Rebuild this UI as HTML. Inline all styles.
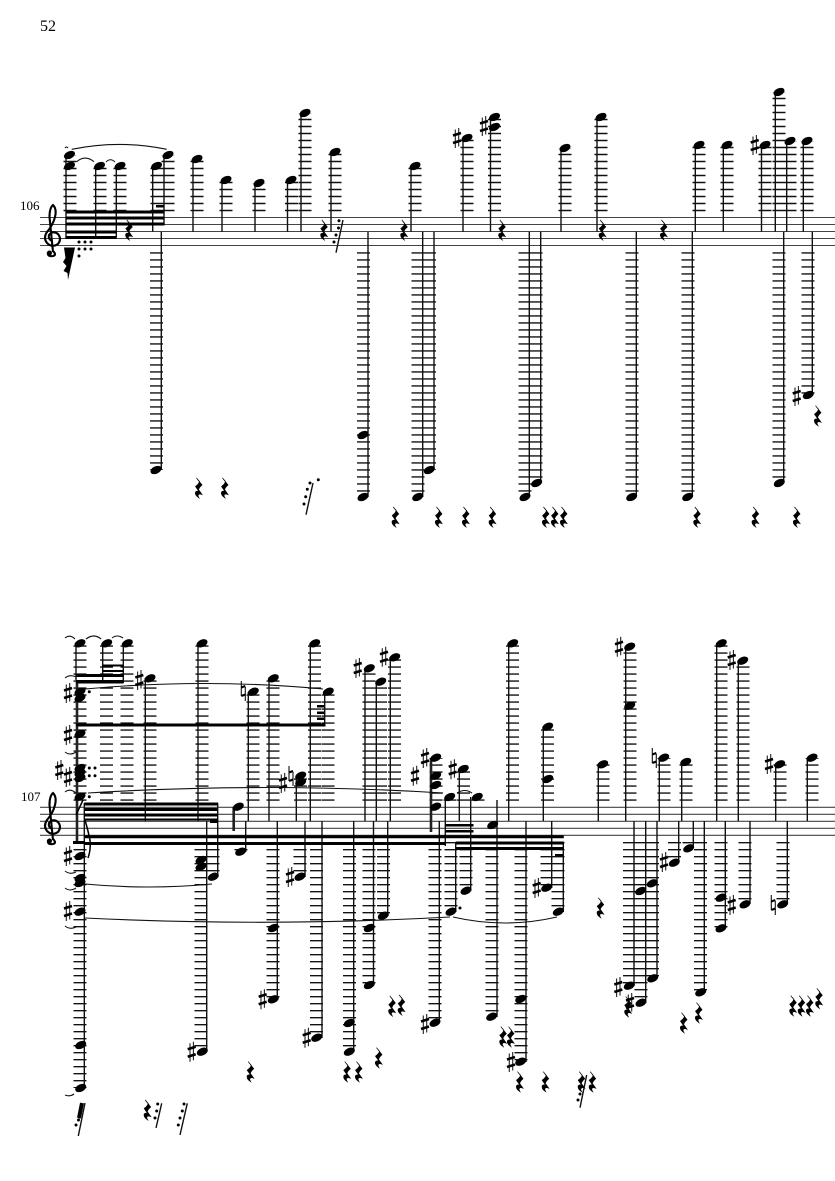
<!DOCTYPE html>
<html><head><meta charset="utf-8"><style>
html,body{margin:0;padding:0;background:#fff}
svg{display:block}
text{font-family:"Liberation Serif",serif;fill:#000}
.st{fill:none;stroke:#444;stroke-width:1.1}
.lu,.ld{fill:none;stroke:#111;stroke-width:13;stroke-dasharray:1.4 5.6}
.sm{fill:none;stroke:#111;stroke-width:1.4}
.tk{fill:none;stroke:#222;stroke-width:2.6}
.sl{fill:none;stroke:#111;stroke-width:1.1}
.dt{fill:none;stroke:#000;stroke-width:3;stroke-linecap:round}
</style></head><body>
<svg xmlns="http://www.w3.org/2000/svg" width="835" height="1181" viewBox="0 0 835 1181">
<defs>
<ellipse id="h" rx="5.8" ry="3.7" transform="rotate(-25)" fill="#000"/>
<path id="r" fill="#000" stroke="#000" stroke-width=".7" d="M-2.500-10 3-3Q.5-1-.5 1.500L3 6.500Q-1 5-1 8L0 10Q-4.500 7-3.500 4Q-2 2.500 0 3.500L-3.500-1.500Q0-4 .5-6.500Z"/>
<g id="s"><path d="M-1.700-8.500V10M1.700-10V8.500" stroke="#222" stroke-width="1.1" fill="none"/><path d="M-4-2.500 4-5M-4 5 4 2.500" stroke="#000" stroke-width="2.600" fill="none"/></g>
<g id="n"><path d="M-2-10V5M2-4V10" stroke="#111" stroke-width="1.1" fill="none"/><path d="M-2-3.500 2-5M-2 5 2 3.500" stroke="#000" stroke-width="2.200" fill="none"/></g>
<g id="c" fill="none" stroke="#000"><path stroke-width="2.100" d="M53 46Q57 50 53 51Q47 52 48 47M53 47 49.500 12Q49.500 3 53 0Q57 4 55 12Q53 20 47 27Q43 33 47 38Q52 43 58 39Q62 34 58 29Q53 25 49 30Q48 34 52 36"/><circle cx="49.500" cy="48" r="2.500" fill="#000" stroke="none"/></g>
</defs>

<text x="40" y="31" font-size="16">52</text>
<text x="20" y="210" font-size="13">106</text>
<text x="21" y="801" font-size="13">107</text>

<path class="st" d="M40 217.500H835M40 224.500H835M40 231.500H835M40 238.500H835M40 245.500H835"/>
<path class="st" d="M40 807.300H835M40 814.300H835M40 821.300H835M40 828.300H835M40 835.300H835"/>
<use href="#c" y="205"/>
<use href="#c" y="793"/>

<!-- STAFF 1 -->
<path class="lu" d="M70 211.200V155M100 211.200V166M120 211.200V166M157 211.200V166M168 211.200V155M197 211.200V159M226 211.200V180M259 211.200V183M291.500 211.200V180M305 211.200V113M335 211.200V152M415 211.200V166M467 211.200V138M494.500 211.200V117M565 211.200V148M601 211.200V117M699 211.200V145M727 211.200V145M765 211.200V145M779 211.200V92M790 211.200V141M807 211.200V141"/>
<path class="ld" d="M156.500 252.200V470M363.500 252.200V497M418 252.200V497M429.500 252.200V470M525 252.200V497M536 252.200V483M632 252.200V497M688 252.200V497M779 252.200V483M808 252.200V395"/>
<path class="sm" d="M66 155V238M95.700 166V237M116.300 166V237M152.700 166V231.700M164 155V225M193 159V231.700M222 180V231.700M255 183V231.700M287.500 180V231.700M301 113V231.700M331 152V231.700M411 166V231.700M463 138V231.700M490.500 117V231.700M561 148V231.700M597 117V231.700M695.300 145V231.700M723.300 145V231.700M761.500 145V231.700M775.300 92V231.700M786.700 141V231.700M803.300 141V231.700"/>
<path class="sm" d="M161.300 231.700V470M368 231.700V497M422.700 231.700V497M434 231.700V470M529.300 231.700V497M540.700 231.700V483M636.300 231.700V497M692.300 231.700V497M783.700 231.700V483M812.300 231.700V395"/>
<path fill="#000" d="M65.500 210.500H164.500V213.500H65.500ZM65.500 216.500H164.500V219.500H65.500ZM65.500 222.500H164.500V225.500H65.500ZM65.500 230.500H116.800V233.500H65.500ZM65.500 236H116.800V239H65.500ZM156 205H164V207.500H156Z"/>
<path fill="#000" d="M64 247.500H75L68 280 67.500 273 63.500 271 66.500 266 63 262 65.500 258Z"/>
<path class="dt" d="M79 242h0M85 242h0M91 242h0M79 249h0M85 249h0M91 249h0M79 256h0M339 220.700h0M338.500 228h0M336 235h0M334 242h0M310 483h0M307.300 489.300h0M305.700 496.700h0M304 504h0M318.300 479.700h0"/>
<path class="sm" d="M343 220 336 252.700M313 483 306 514.700"/>
<path class="sl" d="M71.700 149.300Q119 139.500 166.700 149.300M76.700 161.700Q85 154.500 94 161.700M106 162Q110.500 157.500 115 162M65 148Q66.500 146 68 148"/>
<use href="#h" x="69.500" y="155"/><use href="#h" x="69.500" y="166"/><use href="#h" x="99.500" y="166"/><use href="#h" x="120" y="166"/><use href="#h" x="156.500" y="166"/><use href="#h" x="168" y="155"/><use href="#h" x="197" y="159"/><use href="#h" x="226" y="180"/><use href="#h" x="259" y="183"/><use href="#h" x="291" y="180"/><use href="#h" x="305" y="113"/><use href="#h" x="335" y="152"/><use href="#h" x="415" y="166"/><use href="#h" x="467" y="138"/><use href="#h" x="494.500" y="117"/><use href="#h" x="494.500" y="127"/><use href="#h" x="565" y="148"/><use href="#h" x="601" y="117"/><use href="#h" x="699" y="145"/><use href="#h" x="727" y="145"/><use href="#h" x="765" y="145"/><use href="#h" x="779" y="92"/><use href="#h" x="790" y="141"/><use href="#h" x="807" y="141"/>
<use href="#h" x="156" y="470"/><use href="#h" x="363" y="435"/><use href="#h" x="363" y="497"/><use href="#h" x="417.700" y="497"/><use href="#h" x="429.300" y="470"/><use href="#h" x="525" y="497"/><use href="#h" x="536.700" y="483"/><use href="#h" x="631.700" y="497"/><use href="#h" x="687.700" y="497"/><use href="#h" x="779.300" y="483"/><use href="#h" x="808.300" y="395"/>
<use href="#s" x="457" y="138"/><use href="#s" x="484" y="126"/><use href="#s" x="754.700" y="145"/><use href="#s" x="796.700" y="396"/>
<use href="#r" x="129.300" y="230"/><use href="#r" x="324.300" y="230"/><use href="#r" x="404.300" y="230"/><use href="#r" x="502.300" y="230"/><use href="#r" x="602.700" y="230"/><use href="#r" x="664" y="230"/>
<use href="#r" x="199" y="488"/><use href="#r" x="225" y="488"/><use href="#r" x="395.700" y="517"/><use href="#r" x="439" y="517"/><use href="#r" x="466" y="517"/><use href="#r" x="492.700" y="517"/><use href="#r" x="546" y="517"/><use href="#r" x="555" y="517"/><use href="#r" x="564" y="517"/><use href="#r" x="697.300" y="517"/><use href="#r" x="755.700" y="517"/><use href="#r" x="797" y="517"/><use href="#r" x="818" y="415.700"/>

<!-- STAFF 2 -->
<path class="lu" d="M80 800.800V643M80 800.800V684M106.500 800.800V643M127 800.800V643M150 800.800V678M202 800.800V643M253 800.800V692M273 800.800V678M300.500 800.800V776M314.500 800.800V643M328 800.800V692M369 800.800V668M380.500 800.800V682M394.500 800.800V657M436 800.800V758M450 800.800V797M463.500 800.800V769M478 800.800V797M512.500 800.800V643M547.500 800.800V727M603 800.800V764M630 800.800V647M664 800.800V758M686 800.800V762M721 800.800V643M743 800.800V661M780 800.800V764M812 800.800V758"/>
<path class="ld" d="M80 842V1088M201 842V1052M213 842V877M241 842V852M273 842V999M300 842V877M316.500 842V1038M349.500 842V1052M369 842V985M383.500 842V916M435 842V1023M451 842V912M466 842V891M492 842V1017M521 842V1062M547 842V888M558 842V912M629.500 842V986M641 842V1003M652.500 842V978M674.500 842V863M689 842V848M700.500 842V992M721 842V928M745 842V904M783 842V904"/>
<path class="sm" d="M102.700 643V683M123.300 643V683M145.300 678V821M198 643V821M248.300 692V821M269 678V821M296.300 776V821M310.300 643V821M324.700 692V725M365 668V821M376.300 682V821M390.300 657V821M445.300 797V846M459.300 769V821M508.700 643V821M543.300 727V821M598.300 764V821M625.700 647V821M659.300 758V821M681.700 762V821M716.700 643V821M738.300 661V821M775.700 764V821M807.300 758V821"/>
<path class="sm" d="M84.300 803V1088M206.700 821V1052M217.700 803V877M245.700 821V852M277.300 821V999M305 821V877M322 821V1038M353.700 821V1052M373.500 821V985M387.700 821V916M439.300 821V1023M455.700 843V912M470.700 797V891M497 800V1017M526 821V1062M551.700 821V888M563.300 843V912M634 821V986M645.700 821V1003M657 821V978M678.700 821V863M693.300 821V848M704.300 821V992M725.300 821V928M750 821V904M787.300 821V904"/>
<path class="tk" d="M77 680V843M233.700 807V831M431 758V832"/>
<path class="sm" d="M76 643V680"/>
<path fill="#000" d="M76 674H123.500V677H76ZM76 680H123.500V683.500H76ZM102.700 664.500H123.500V666.500H102.700ZM102.700 670H123.500V672H102.700ZM76 723.500H325.500V726.500H76ZM317 705H324.500V707.500H317ZM317 711.500H324.500V714H317ZM317 717.500H324.500V720H317Z"/>
<path fill="#000" d="M84.300 802.500H218V805.500H84.300ZM84.300 808H218V811H84.300ZM84.300 813.500H218V816.500H84.300ZM84.300 818.500H218V820.500H84.300ZM210 820.500H217.700V823H210ZM73 841H85V844H73ZM84.300 835.300H563.800V838.300H84.300ZM84.300 842H445.500V845H84.300ZM445.300 824H473.500V826.500H445.300ZM445.300 830H473.500V832.500H445.300ZM455.700 841.500H563.800V844.500H455.700ZM455.700 847H563.800V850H455.700ZM555 854H563.300V856.500H555Z"/>
<path fill="none" stroke="#000" stroke-width="1.500" d="M85 820Q88 830 90 840Q91 850 88 858M76 815 83 800"/>
<path class="sl" d="M85 689Q205 678 323 689M88 793Q265 782 443 793M85 884Q148 890 212 884M85 918Q270 927 450 917M453 917Q505 929 557 917M457 793Q465 788 472 793M65 638Q70 634 75 639M86 639Q94 633 101 639M112 638Q117 634 123 638M65 678Q70 674 76 677M65 752Q70 756 76 752M65 792Q70 788 76 793M65 871Q70 875 76 872M65 888Q70 892 76 888M65 926Q70 930 76 927M65 1095Q70 1097 74 1094"/>
<path class="dt" d="M89.300 691.700h0M89.300 768h0M95 768h0M89.300 775.700h0M95 775.700h0M89.300 796.700h0M460 908h0"/>
<use href="#h" x="80" y="643.300"/><use href="#h" x="106.700" y="643.300"/><use href="#h" x="127.300" y="643.300"/><use href="#h" x="150" y="678.300"/><use href="#h" x="202" y="643.300"/><use href="#h" x="253.300" y="691.700"/><use href="#h" x="273.300" y="678.300"/><use href="#h" x="300.700" y="775.700"/><use href="#h" x="300.700" y="782.300"/><use href="#h" x="314.700" y="643.300"/><use href="#h" x="328.300" y="691.700"/><use href="#h" x="369.300" y="668.300"/><use href="#h" x="380.700" y="681.700"/><use href="#h" x="394.700" y="657.300"/><use href="#h" x="435.700" y="757.700"/><use href="#h" x="435.700" y="775.700"/><use href="#h" x="435.700" y="785"/><use href="#h" x="435.700" y="806.700"/><use href="#h" x="449.700" y="797"/><use href="#h" x="463.300" y="769"/><use href="#h" x="477.300" y="797"/><use href="#h" x="492.700" y="825"/><use href="#h" x="512.700" y="643.300"/><use href="#h" x="547.700" y="726.700"/><use href="#h" x="547.700" y="779"/><use href="#h" x="602.700" y="764.300"/><use href="#h" x="629.700" y="646.700"/><use href="#h" x="629.700" y="705.700"/><use href="#h" x="663.700" y="757.700"/><use href="#h" x="685.700" y="762"/><use href="#h" x="721.300" y="643.300"/><use href="#h" x="742.700" y="660.700"/><use href="#h" x="779.700" y="764.300"/><use href="#h" x="812" y="757.700"/><use href="#h" x="238.300" y="806.700"/>
<use href="#h" x="80" y="691.700"/><use href="#h" x="80" y="698"/><use href="#h" x="80" y="734"/><use href="#h" x="80" y="768"/><use href="#h" x="80" y="773"/><use href="#h" x="80" y="778"/><use href="#h" x="80" y="796.700"/><use href="#h" x="80" y="856"/><use href="#h" x="80" y="878"/><use href="#h" x="80" y="883"/><use href="#h" x="80" y="911.700"/><use href="#h" x="80.700" y="1045"/><use href="#h" x="80.700" y="1088"/>
<use href="#h" x="201" y="860"/><use href="#h" x="201" y="866.700"/><use href="#h" x="202.300" y="1051.700"/><use href="#h" x="213.300" y="876.700"/><use href="#h" x="240.700" y="851.700"/><use href="#h" x="273.300" y="928"/><use href="#h" x="273.300" y="999.300"/><use href="#h" x="300" y="876.700"/><use href="#h" x="316.700" y="1037.700"/><use href="#h" x="349.300" y="1023"/><use href="#h" x="349.300" y="1051.700"/><use href="#h" x="369.300" y="928"/><use href="#h" x="369.300" y="985"/><use href="#h" x="383.300" y="915.700"/><use href="#h" x="435" y="1022.700"/><use href="#h" x="451" y="911.700"/><use href="#h" x="466" y="890.700"/><use href="#h" x="491.700" y="1016.700"/><use href="#h" x="520.700" y="999"/><use href="#h" x="520.700" y="1061.700"/><use href="#h" x="546.700" y="887.700"/><use href="#h" x="558.300" y="911.700"/><use href="#h" x="629.300" y="985.700"/><use href="#h" x="640.700" y="891"/><use href="#h" x="641" y="1002.700"/><use href="#h" x="652.300" y="883.300"/><use href="#h" x="652.700" y="978.300"/><use href="#h" x="674.300" y="862.700"/><use href="#h" x="688.700" y="848.300"/><use href="#h" x="700.700" y="992.300"/><use href="#h" x="721" y="897.700"/><use href="#h" x="721" y="928.300"/><use href="#h" x="745" y="904.300"/><use href="#h" x="782.700" y="904.300"/>
<use href="#s" x="139.300" y="680"/><use href="#s" x="68" y="693"/><use href="#s" x="68" y="735"/><use href="#s" x="59.300" y="770"/><use href="#s" x="68" y="777"/><use href="#s" x="68" y="856"/><use href="#s" x="68" y="911"/><use href="#s" x="283" y="783"/><use href="#s" x="357.700" y="668"/><use href="#s" x="384" y="656.700"/><use href="#s" x="425" y="758"/><use href="#s" x="415" y="775.700"/><use href="#s" x="452.700" y="769.300"/><use href="#s" x="290" y="877"/><use href="#s" x="536.700" y="888"/><use href="#s" x="619" y="646.700"/><use href="#s" x="731.700" y="660"/><use href="#s" x="769" y="764"/><use href="#s" x="664" y="862"/><use href="#s" x="731.700" y="905"/><use href="#s" x="191.700" y="1051.700"/><use href="#s" x="262.700" y="999.300"/><use href="#s" x="306.700" y="1037.700"/><use href="#s" x="425" y="1024"/><use href="#s" x="511" y="1062"/><use href="#s" x="618.300" y="987"/><use href="#s" x="630" y="1003"/>
<use href="#n" x="243.300" y="691"/><use href="#n" x="291" y="776"/><use href="#n" x="654.300" y="758"/><use href="#n" x="773.300" y="905"/>
<use href="#r" x="600.700" y="907.700"/><use href="#r" x="392.300" y="1006"/><use href="#r" x="401.700" y="1005"/><use href="#r" x="250.700" y="1071.700"/><use href="#r" x="347.300" y="1071.700"/><use href="#r" x="359" y="1071.700"/><use href="#r" x="379" y="1057.700"/><use href="#r" x="147.700" y="1110"/><use href="#r" x="503.300" y="1036.700"/><use href="#r" x="511" y="1036.700"/><use href="#r" x="520" y="1081.700"/><use href="#r" x="545.700" y="1081.700"/><use href="#r" x="581.700" y="1081.700"/><use href="#r" x="592.700" y="1081.700"/><use href="#r" x="684" y="1022.700"/><use href="#r" x="699" y="1012.700"/><use href="#r" x="793.300" y="1005.700"/><use href="#r" x="801.700" y="1005.700"/><use href="#r" x="810" y="1005.700"/><use href="#r" x="819.300" y="998.300"/><use href="#r" x="628.300" y="1006.700"/>
<path class="sm" d="M85 1103 78.300 1136M161.700 1103.300 156 1128M187.300 1103.300 180 1135M586.700 1075 580 1107.700"/>
<path class="dt" d="M81.500 1105h0M81 1108h0M80.500 1111h0M80 1114h0M79.500 1117h0M78.500 1120h0M76 1125h0M157.700 1104h0M156.700 1111h0M155 1118h0M184 1104h0M182.300 1111h0M180 1118h0M178.300 1125h0M581.700 1080h0M581 1087h0M580 1094h0M578 1100h0"/>
<path fill="none" stroke="#000" stroke-width="4" d="M82 1103 79 1118"/>
</svg>
</body></html>
